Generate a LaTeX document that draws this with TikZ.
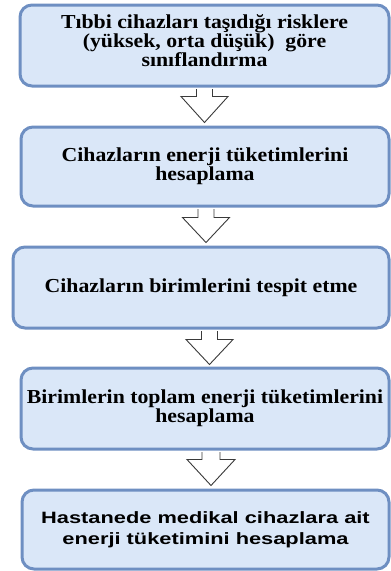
\documentclass[tikz,border=0pt]{standalone}
\usepackage{fontspec}
\setmainfont{Liberation Serif}
\newfontfamily\serifwide[FakeStretch=1.1]{Liberation Serif}
\newfontfamily\sanswide[FakeStretch=1.33]{Liberation Sans}
\usetikzlibrary{calc}
\definecolor{boxfill}{HTML}{DAE7F8}
\definecolor{boxline}{HTML}{6E8FC2}
\definecolor{arrline}{HTML}{3A3A3A}
\begin{document}
\begin{tikzpicture}[x=1pt,y=-1pt,
  stepbox/.style={draw=boxline, line width=3pt, fill=boxfill, rounded corners=12pt,
    inner sep=0pt, align=center, text=black,
    font=\serifwide\bfseries\fontsize{19.8}{17.5}\selectfont},
  sansbox/.style={stepbox, font=\sanswide\bfseries\fontsize{16.4}{21}\selectfont},
  blockarr/.style={draw=arrline, line width=0.9pt, fill=white, line join=miter}]
\useasboundingbox (0,0) rectangle (391,571);

\node[stepbox, minimum width=369pt, minimum height=81pt, text depth=10pt] (b1) at (204.5,45.5)
  {Tıbbi cihazları taşıdığı risklere\\(yüksek, orta düşük)\ \ göre\\sınıflandırma};
\node[stepbox, minimum width=368pt, minimum height=79pt] (b2) at (205,166.5)
  {Cihazların enerji tüketimlerini\\hesaplama};
\node[stepbox, minimum width=376pt, minimum height=81pt] (b3) at (201,287.5)
  {Cihazların birimlerini tespit etme};
\node[stepbox, minimum width=368pt, minimum height=81pt] (b4) at (205,408.5)
  {Birimlerin toplam enerji tüketimlerini\\hesaplama};
\node[sansbox, minimum width=367pt, minimum height=79pt] (b5) at (205.5,529.5)
  {Hastanede medikal cihazlara ait\\enerji tüketimini hesaplama};

% block arrows
\draw[blockarr] let \p1=($(b1.south)+(0,1.5)$), \p2=($(b2.north)+(-0.5,-3)$) in
  (\x2-8pt,\y1) -- (\x2-8pt,\y2+26pt) -- (\x2-23.5pt,\y2+26pt) -- (\x2,\y2)
  -- (\x2+23.5pt,\y2+26pt) -- (\x2+8pt,\y2+26pt) -- (\x2+8pt,\y1);
\draw[blockarr] let \p1=($(b2.south)+(0,1.5)$), \p2=($(b3.north)+(5,-3)$) in
  (\x2-8pt,\y1) -- (\x2-8pt,\y2+25pt) -- (\x2-23.5pt,\y2+25pt) -- (\x2,\y2)
  -- (\x2+23.5pt,\y2+25pt) -- (\x2+8pt,\y2+25pt) -- (\x2+8pt,\y1);
\draw[blockarr] let \p1=($(b3.south)+(0,1.5)$), \p2=($(b4.north)+(4.5,-2)$) in
  (\x2-8pt,\y1) -- (\x2-8pt,\y2+25pt) -- (\x2-23.5pt,\y2+25pt) -- (\x2,\y2)
  -- (\x2+23.5pt,\y2+25pt) -- (\x2+8pt,\y2+25pt) -- (\x2+8pt,\y1);
\draw[blockarr] let \p1=($(b4.south)+(0,1.5)$), \p2=($(b5.north)+(5.5,-3)$) in
  (\x2-9pt,\y1) -- (\x2-9pt,\y2+26pt) -- (\x2-24pt,\y2+26pt) -- (\x2,\y2)
  -- (\x2+24pt,\y2+26pt) -- (\x2+9pt,\y2+26pt) -- (\x2+9pt,\y1);
\end{tikzpicture}
\end{document}
